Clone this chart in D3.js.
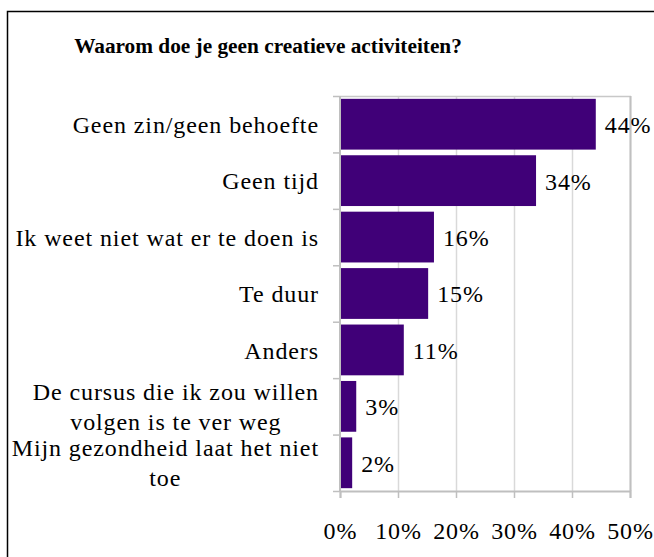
<!DOCTYPE html>
<html>
<head>
<meta charset="utf-8">
<script src="https://cdn.jsdelivr.net/npm/d3@7"></script>
<style>
  html, body { margin: 0; padding: 0; background: #fff; }
  svg { display: block; }
</style>
</head>
<body>
<svg id="chart" width="654" height="557"></svg>
<script>
const title = "Waarom doe je geen creatieve activiteiten?";
const categories = [
  "Geen zin/geen behoefte",
  "Geen tijd",
  "Ik weet niet wat er te doen is",
  "Te duur",
  "Anders",
  "De cursus die ik zou willen\nvolgen is te ver weg",
  "Mijn gezondheid laat het niet\ntoe"
];
const values = [44.1, 33.8, 16.2, 15.2, 11.0, 2.8, 2.1];
const valueLabels = ["44%", "34%", "16%", "15%", "11%", "3%", "2%"];
const xTicks = [0, 10, 20, 30, 40, 50];
const xTickLabels = ["0%", "10%", "20%", "30%", "40%", "50%"];

const FONT = "'Liberation Serif'";
const svg = d3.select("#chart");
const plot = { left: 340, right: 630, top: 96, bottom: 491 };
const fontSize = 24, letterSp = 0.9;
const barColor = "#400078";

// outer border
svg.append("rect")
  .attr("x", 7.5).attr("y", 11.5)
  .attr("width", 660).attr("height", 560)
  .attr("fill", "none").attr("stroke", "#000").attr("stroke-width", 1.5);

// title
svg.append("text")
  .attr("x", 268).attr("y", 53)
  .attr("text-anchor", "middle")
  .style("font-family", FONT)
  .style("font-weight", "bold")
  .style("font-size", "21.3px")
  .attr("fill", "#000")
  .text(title);

const x = d3.scaleLinear().domain([0, 50]).range([plot.left, plot.right]);
const y = d3.scaleBand().domain(categories).range([plot.top, plot.bottom])
  .paddingInner(0.1).paddingOuter(0.05);

// gridlines
svg.append("g").selectAll("line").data(xTicks.slice(1)).join("line")
  .attr("x1", d => x(d) + 0.5).attr("x2", d => x(d) + 0.5)
  .attr("y1", plot.top).attr("y2", plot.bottom)
  .attr("stroke", "#d9d9d9").attr("stroke-width", 1.5);

// plot border top / right
svg.append("line").attr("x1", plot.left).attr("x2", plot.right + 1)
  .attr("y1", plot.top + 0.5).attr("y2", plot.top + 0.5)
  .attr("stroke", "#c8c8c8").attr("stroke-width", 1.5);
svg.append("line").attr("x1", plot.right + 0.5).attr("x2", plot.right + 0.5)
  .attr("y1", plot.top).attr("y2", plot.bottom)
  .attr("stroke", "#c0c0c0").attr("stroke-width", 2);

// bars
svg.append("g").selectAll("rect").data(categories).join("rect")
  .attr("x", x(0) + 1)
  .attr("y", d => y(d))
  .attr("width", (d, i) => x(values[i]) - x(0) - 1)
  .attr("height", y.bandwidth())
  .attr("fill", barColor);

// value labels
svg.append("g").selectAll("text").data(categories).join("text")
  .attr("x", (d, i) => x(values[i]) + 9)
  .attr("y", d => y(d) + y.bandwidth() / 2)
  .attr("dy", "0.37em")
  .style("font-family", FONT)
  .style("font-size", fontSize + "px")
  .style("letter-spacing", letterSp + "px")
  .attr("fill", "#000")
  .text((d, i) => valueLabels[i]);

// x axis
const xAxis = d3.axisBottom(x).tickValues(xTicks).tickSize(7)
  .tickFormat((d, i) => xTickLabels[i]).tickPadding(24);
const gx = svg.append("g").attr("transform", `translate(0,${plot.bottom})`).call(xAxis);
gx.attr("font-family", null);
gx.select(".domain").attr("stroke", "#bfbfbf").attr("stroke-width", 2);
gx.selectAll(".tick line").attr("stroke", "#bfbfbf").attr("stroke-width", 1.5);
gx.selectAll(".tick text")
  .style("font-family", FONT)
  .style("font-size", fontSize + "px")
  .style("letter-spacing", letterSp + "px")
  .attr("fill", "#000");

// y axis: line and ticks at band boundaries
const step = y.step();
const boundaries = [plot.top].concat(categories.map(c => y(c) + y.bandwidth() + (step - y.bandwidth()) / 2));
boundaries[boundaries.length - 1] = plot.bottom;
svg.append("line").attr("x1", plot.left).attr("x2", plot.left)
  .attr("y1", plot.top).attr("y2", plot.bottom)
  .attr("stroke", "#bfbfbf").attr("stroke-width", 2);
svg.append("g").selectAll("line").data(boundaries).join("line")
  .attr("x1", plot.left - 7).attr("x2", plot.left)
  .attr("y1", d => d + 0.5).attr("y2", d => d + 0.5)
  .attr("stroke", "#bfbfbf").attr("stroke-width", 1.5);

// category labels
const labelRight = 319;
const lineH = 30;
categories.forEach(c => {
  const lines = c.split("\n");
  const g = svg.append("g");
  const cy = y(c) + y.bandwidth() / 2;
  const texts = lines.map((ln, k) => g.append("text")
    .attr("y", cy + (k - (lines.length - 1) / 2) * lineH)
    .attr("dy", "0.36em")
    .style("font-family", FONT)
    .style("font-size", fontSize + "px")
    .style("letter-spacing", letterSp + "px")
    .attr("text-anchor", "middle")
    .attr("fill", "#000")
    .text(ln));
  const maxW = d3.max(texts, t => t.node().getComputedTextLength());
  texts.forEach(t => t.attr("x", labelRight - maxW / 2));
});
</script>
</body>
</html>
